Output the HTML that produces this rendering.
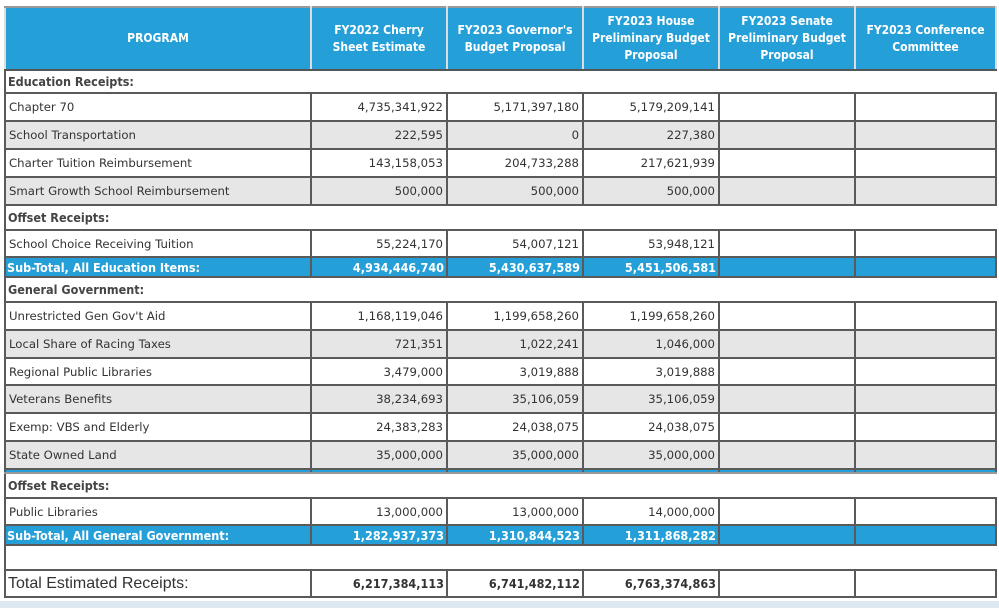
<!DOCTYPE html>
<html><head><meta charset="utf-8"><style>
body{margin:0;width:999px;height:608px;background:#fff;position:relative;overflow:hidden;font-family:"DejaVu Sans","Liberation Sans",sans-serif;}
table{position:absolute;left:4px;top:6px;border-collapse:collapse;table-layout:fixed;width:991px;}
td{border:2px solid #5a5a5a;font-size:11.7px;color:#333;padding:0 3px;white-space:nowrap;overflow:hidden;}
td.n{text-align:right;}
tr.h td{background:#259fd8;color:#fff;font-weight:bold;text-align:center;font-family:"DejaVu Sans Condensed","DejaVu Sans",sans-serif;font-size:12px;line-height:17px;border-color:#999 #ddd #555 #ddd;}
tr.g td{background:#e6e6e6;}
tr.s td{font-weight:bold;font-family:"DejaVu Sans Condensed","DejaVu Sans",sans-serif;font-size:12.5px;color:#444;border-left:2px solid #5a5a5a;border-right:none;padding-left:2px;}
tr.b td{background:#259fd8;color:#fff;font-weight:bold;font-family:"DejaVu Sans Condensed","DejaVu Sans",sans-serif;font-size:12.5px;padding-left:1px;}
tr.b td.n{padding-right:2px;}
tr.line td{background:#259fd8;height:2px;padding:0;border-top:2px solid #5a5a5a;border-bottom:2px solid #999;}
tr.t td{font-size:16px;font-family:"Liberation Sans",sans-serif;padding-left:2px;}
tr.t td.n{font-size:12.5px;font-weight:bold;font-family:"DejaVu Sans Condensed","DejaVu Sans",sans-serif;padding-right:2px;}
.strip{position:absolute;left:0;top:601px;width:999px;height:7px;background:#dde9f2;}
</style></head><body>
<table>
<colgroup><col style="width:306px"><col style="width:136px"><col style="width:136px"><col style="width:136px"><col style="width:136px"><col style="width:141px"></colgroup>
<tr class="h" style="height:63px"><td>PROGRAM</td><td>FY2022 Cherry<br>Sheet Estimate</td><td>FY2023 Governor's<br>Budget Proposal</td><td>FY2023 House<br>Preliminary Budget<br>Proposal</td><td>FY2023 Senate<br>Preliminary Budget<br>Proposal</td><td>FY2023 Conference<br>Committee</td></tr>
<tr class="s" style="height:23px"><td colspan="6">Education Receipts:</td></tr>
<tr style="height:28px"><td>Chapter 70</td><td class="n">4,735,341,922</td><td class="n">5,171,397,180</td><td class="n">5,179,209,141</td><td></td><td></td></tr>
<tr class="g" style="height:28px"><td>School Transportation</td><td class="n">222,595</td><td class="n">0</td><td class="n">227,380</td><td></td><td></td></tr>
<tr style="height:28px"><td>Charter Tuition Reimbursement</td><td class="n">143,158,053</td><td class="n">204,733,288</td><td class="n">217,621,939</td><td></td><td></td></tr>
<tr class="g" style="height:28px"><td>Smart Growth School Reimbursement</td><td class="n">500,000</td><td class="n">500,000</td><td class="n">500,000</td><td></td><td></td></tr>
<tr class="s" style="height:25px"><td colspan="6">Offset Receipts:</td></tr>
<tr style="height:27px"><td>School Choice Receiving Tuition</td><td class="n">55,224,170</td><td class="n">54,007,121</td><td class="n">53,948,121</td><td></td><td></td></tr>
<tr class="b" style="height:20px"><td>Sub-Total, All Education Items:</td><td class="n">4,934,446,740</td><td class="n">5,430,637,589</td><td class="n">5,451,506,581</td><td></td><td></td></tr>
<tr class="s" style="height:25px"><td colspan="6">General Government:</td></tr>
<tr style="height:28px"><td>Unrestricted Gen Gov't Aid</td><td class="n">1,168,119,046</td><td class="n">1,199,658,260</td><td class="n">1,199,658,260</td><td></td><td></td></tr>
<tr class="g" style="height:28px"><td>Local Share of Racing Taxes</td><td class="n">721,351</td><td class="n">1,022,241</td><td class="n">1,046,000</td><td></td><td></td></tr>
<tr style="height:27px"><td>Regional Public Libraries</td><td class="n">3,479,000</td><td class="n">3,019,888</td><td class="n">3,019,888</td><td></td><td></td></tr>
<tr class="g" style="height:28px"><td>Veterans Benefits</td><td class="n">38,234,693</td><td class="n">35,106,059</td><td class="n">35,106,059</td><td></td><td></td></tr>
<tr style="height:28px"><td>Exemp: VBS and Elderly</td><td class="n">24,383,283</td><td class="n">24,038,075</td><td class="n">24,038,075</td><td></td><td></td></tr>
<tr class="g" style="height:28px"><td>State Owned Land</td><td class="n">35,000,000</td><td class="n">35,000,000</td><td class="n">35,000,000</td><td></td><td></td></tr>
<tr class="line"><td></td><td></td><td></td><td></td><td></td><td></td></tr>
<tr class="s" style="height:25px"><td colspan="6">Offset Receipts:</td></tr>
<tr style="height:27px"><td>Public Libraries</td><td class="n">13,000,000</td><td class="n">13,000,000</td><td class="n">14,000,000</td><td></td><td></td></tr>
<tr class="b" style="height:20px"><td>Sub-Total, All General Government:</td><td class="n">1,282,937,373</td><td class="n">1,310,844,523</td><td class="n">1,311,868,282</td><td></td><td></td></tr>
<tr class="s" style="height:25px"><td colspan="6"></td></tr>
<tr class="t" style="height:27px"><td>Total Estimated Receipts:</td><td class="n">6,217,384,113</td><td class="n">6,741,482,112</td><td class="n">6,763,374,863</td><td></td><td></td></tr>
</table>
<div class="strip"></div>
</body></html>
